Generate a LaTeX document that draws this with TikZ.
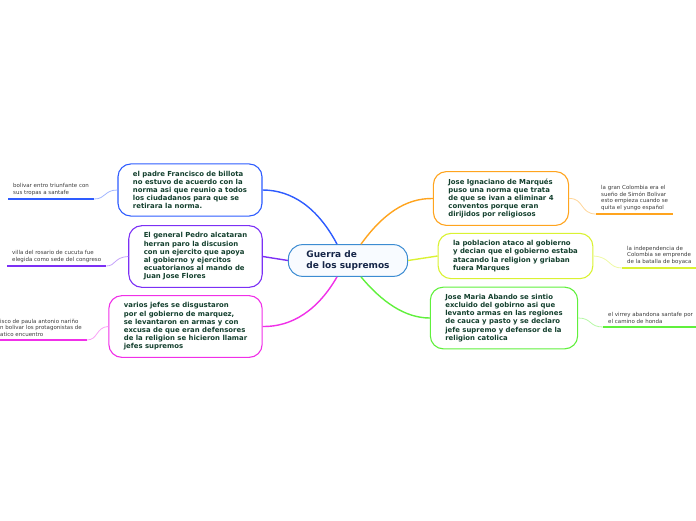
\documentclass[tikz,border=0pt]{standalone}
\usepackage{fontspec}
\usetikzlibrary{calc}
\newfontfamily\mapfont{DejaVu Sans}
\definecolor{centralblue}{RGB}{60,140,210}
\definecolor{centralfill}{RGB}{248,251,255}
\definecolor{centraltext}{RGB}{22,38,72}
\definecolor{topictext}{RGB}{20,64,46}
\definecolor{leaftext}{RGB}{60,60,60}
\definecolor{bluebranch}{RGB}{46,92,255}
\definecolor{purplebranch}{RGB}{124,48,245}
\definecolor{magentabranch}{RGB}{240,48,232}
\definecolor{orangebranch}{RGB}{255,164,30}
\definecolor{limebranch}{RGB}{218,242,50}
\definecolor{greenbranch}{RGB}{96,240,60}
\tikzset{
  centralbox/.style={
    draw=centralblue,
    fill=centralfill,
    line width=1.0pt,
    rounded corners=14pt,
    inner xsep=18pt,
    inner ysep=6pt,
    align=left,
    text=centraltext,
    font=\mapfont\bfseries\fontsize{9}{11}\selectfont
  },
  topicbox/.style={
    draw=#1,
    fill=white,
    line width=1.1pt,
    rounded corners=13pt,
    inner xsep=15pt,
    inner ysep=7pt,
    align=left,
    text=topictext,
    font=\mapfont\bfseries\fontsize{6.9}{8.2}\selectfont
  },
  leafnote/.style={
    inner xsep=5pt,
    inner ysep=3pt,
    align=left,
    text=leaftext,
    font=\mapfont\fontsize{5.5}{6.8}\selectfont
  },
  mainlink/.style={
    draw=#1,
    line width=1.4pt
  },
  leaflink/.style={
    draw=#1!45,
    line width=0.8pt
  },
  leafline/.style={
    draw=#1,
    line width=1.8pt
  }
}

\begin{document}
\begin{tikzpicture}[x=1pt,y=-1pt]
  \useasboundingbox (0,0) rectangle (696,520);

  % Central topic.
  \node[centralbox] (guerra) at (348,260.5) {Guerra de\\de los supremos};

  % Left-hand topics.
  \node[topicbox=bluebranch] (billota) at (190,190)
    {el padre Francisco de billota\\no estuvo de acuerdo con la\\norma asi que reunio a todos\\los ciudadanos para que se\\retirara la norma.};
  \node[topicbox=purplebranch] (alcataran) at (195.5,256.5)
    {El general Pedro alcataran\\herran paro la discusion\\con un ejercito que apoya\\al gobierno y ejercitos\\ecuatorianos al mando de\\Juan Jose Flores};
  \node[topicbox=magentabranch] (jefes) at (185.5,326.5)
    {varios jefes se disgustaron\\por el gobierno de marquez,\\se levantaron en armas y con\\excusa de que eran defensores\\de la religion se hicieron llamar\\jefes supremos};

  % Right-hand topics.
  \node[topicbox=orangebranch] (marques) at (501,198.5)
    {Jose Ignaciano de Marqués\\puso una norma que trata\\de que se ivan a eliminar 4\\conventos porque eran\\dirijidos por religiosos};
  \node[topicbox=limebranch] (poblacion) at (515.5,256)
    {la poblacion ataco al gobierno\\y decian que el gobierno estaba\\atacando la religion y griaban\\fuera Marques};
  \node[topicbox=greenbranch] (abando) at (504,318)
    {Jose Maria Abando se sintio\\excluido del gobirno asi que\\levanto armas en las regiones\\de cauca y pasto y se declaro\\jefe supremo y defensor de la\\religion catolica};

  % Leaf notes sit on their underlines.
  \node[leafnote,anchor=south west] (triunfo) at (8,199)
    {bolivar entro triunfante con\\sus tropas a santafe};
  \node[leafnote,anchor=south west] (cucuta) at (7,266)
    {villa del rosario de cucuta fue\\elegida como sede del congreso};
  \node[leafnote,anchor=south west] (narino) at (-5,340)
    {isco de paula antonio nariño\\n bolivar los protagonistas de\\atico encuentro};
  \node[leafnote,anchor=south west] (suenio) at (596,214)
    {la gran Colombia era el\\sueño de Simón Bolivar\\esto empieza cuando se\\quita el yungo español};
  \node[leafnote,anchor=south west] (boyaca) at (622,268)
    {la independencia de\\Colombia se emprende\\de la batalla de boyaca};
  \node[leafnote,anchor=south west] (honda) at (603,327)
    {el virrey abandona santafe por\\el camino de honda};

  % Branches from the central topic.
  \draw[mainlink=bluebranch] ($(guerra.north)+(-11,0)$)
    .. controls (318,208) and (292,190) .. (billota.east);
  \draw[mainlink=purplebranch] (guerra.west) -- (alcataran.east);
  \draw[mainlink=magentabranch] ($(guerra.south)+(-11,0)$)
    .. controls (318,310) and (292,327) .. (jefes.east);
  \draw[mainlink=orangebranch] ($(guerra.north)+(13,0)$)
    .. controls (382,215) and (405,198) .. (marques.west);
  \draw[mainlink=limebranch] (guerra.east) -- (poblacion.west);
  \draw[mainlink=greenbranch] ($(guerra.south)+(13,0)$)
    .. controls (382,302) and (405,318) .. (abando.west);

  % Underlines and links of the leaf notes.
  \draw[leafline=bluebranch] (triunfo.south west) -- (triunfo.south east);
  \draw[leaflink=bluebranch] (billota.west)
    .. controls (104,190) and (106,199) .. (triunfo.south east);
  \draw[leafline=purplebranch] (cucuta.south west) -- (cucuta.south east);
  \draw[leaflink=purplebranch] (alcataran.west)
    .. controls (114,257) and (116,266) .. (cucuta.south east);
  \draw[leafline=magentabranch] (narino.south west) -- (narino.south east);
  \draw[leaflink=magentabranch] (jefes.west)
    .. controls (96,327) and (98,340) .. (narino.south east);
  \draw[leafline=orangebranch] (suenio.south west) -- (suenio.south east);
  \draw[leaflink=orangebranch] (marques.east)
    .. controls (584,198) and (580,214) .. (suenio.south west);
  \draw[leafline=limebranch] (boyaca.south west) -- (boyaca.south east);
  \draw[leaflink=limebranch] (poblacion.east)
    .. controls (611,257) and (608,268) .. (boyaca.south west);
  \draw[leaflink=greenbranch] (abando.east)
    .. controls (592,318) and (589,327) .. (honda.south west);
  \draw[leafline=greenbranch] (honda.south west) -- (honda.south east);

\end{tikzpicture}
\end{document}
